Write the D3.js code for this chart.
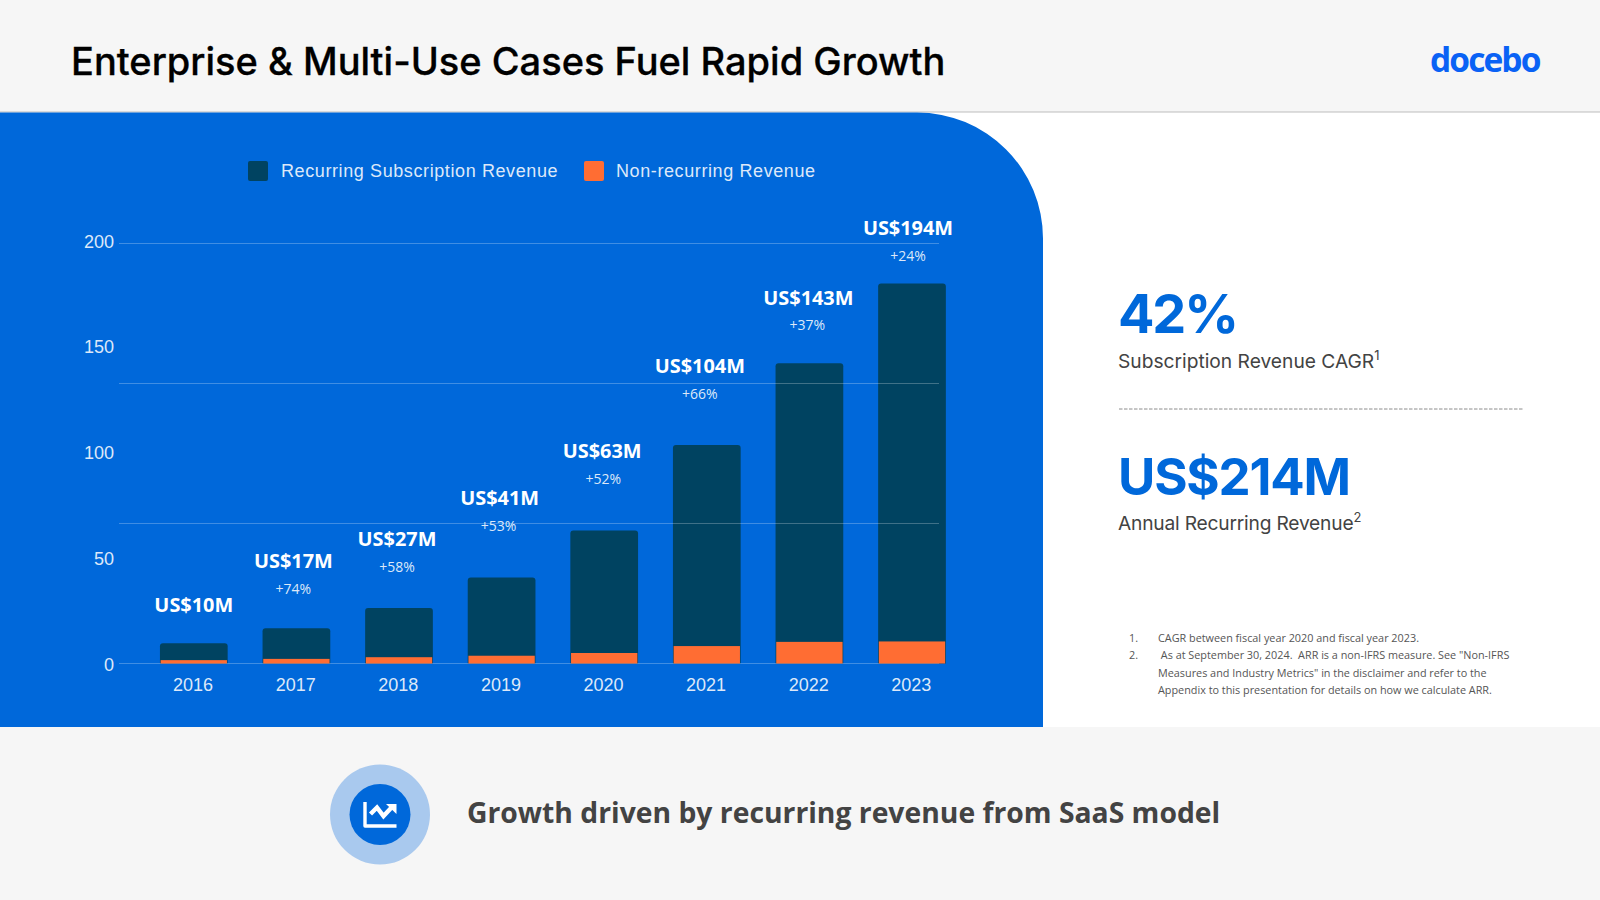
<!DOCTYPE html>
<html><head><meta charset="utf-8">
<script src="https://cdn.jsdelivr.net/npm/d3@7"></script>
<style>
html,body{margin:0;padding:0;background:#fff;overflow:hidden}
svg{display:block}
</style></head><body>
<svg id="c" width="1600" height="900"></svg>
<script>
const years=["2016","2017","2018","2019","2020","2021","2022","2023"];
const nonRecurring=[1.6,2.2,3,3.7,5,8.3,10.3,10.5];
const totals=[9.6,16.8,26.4,41,63.3,104,143,181];
const totalLabels=["US$10M","US$17M","US$27M","US$41M","US$63M","US$104M","US$143M","US$194M"];
const growthLabels=["","+74%","+58%","+53%","+52%","+66%","+37%","+24%"];
const yTicks=[0,50,100,150,200];
const gridValues=[0,66.67,133.33,200];
const legendItems=["Recurring Subscription Revenue","Non-recurring Revenue"];
// heights of the floating labels on the value axis
const totalLabelLevels=[24.3,45.3,55.8,75.6,97.7,138.4,170.6,204];
const growthLabelLevels=[0,33.0,43.6,63.1,85.4,125.9,158.8,191.9];
const C={blue:"#0068da",navy:"#004361",orange:"#ff6d33",bg:"#f6f6f6",grey:"#434343",pale:"#dde8f9"};

const svg=d3.select("#c");
const x=d3.scaleBand().domain(years).range([142.5,963.3]).paddingInner(0.34).paddingOuter(0.17);
const y=d3.scaleLinear().domain([0,200]).range([663.5,243.5]);
const yText=d3.scaleLinear().domain([0,200]).range([670.5,247.5]);

// page bands
svg.append("rect").attr("width",1600).attr("height",112).attr("fill",C.bg);
svg.append("line").attr("x1",0).attr("x2",1600).attr("y1",112).attr("y2",112).attr("stroke","#bdbdbd");
svg.append("rect").attr("y",727).attr("width",1600).attr("height",173).attr("fill",C.bg);
svg.append("path").attr("fill",C.blue)
 .attr("d","M0 112.5H917A126 126 0 0 1 1043 238.5V727H0Z");

const sans="'Liberation Sans',Arial,sans-serif", open="'Open Sans',sans-serif", head="Inter,sans-serif";

// title + logo
svg.append("text").attr("x",71).attr("y",75).attr("font-family",head).attr("font-weight",500)
 .attr("font-size",38).attr("fill","#000").attr("stroke","#000").attr("stroke-width",.3)
 .text("Enterprise & Multi-Use Cases Fuel Rapid Growth");
svg.append("text").attr("x",1430).attr("y",72).attr("font-family",open).attr("font-weight",700)
 .attr("font-size",33.5).attr("letter-spacing",-1.9).attr("fill","#0a62f5").text("docebo");

// legend
const lg=svg.append("g");
[[248,C.navy,281,legendItems[0]],[584,C.orange,616,legendItems[1]]].forEach(([sx,col,tx,t])=>{
  lg.append("rect").attr("x",sx).attr("y",161).attr("width",20).attr("height",20).attr("rx",2).attr("fill",col);
  lg.append("text").attr("x",tx).attr("y",177).attr("font-family",sans).attr("font-size",18).attr("letter-spacing",.6)
    .attr("fill",C.pale).text(t);
});

// y labels
svg.append("g").selectAll("text").data(yTicks).join("text")
 .attr("x",114).attr("y",d=>yText(d)).attr("text-anchor","end").attr("font-family",sans)
 .attr("font-size",18).attr("fill",C.pale).text(d=>d);

// x labels
svg.append("g").selectAll("text").data(years).join("text")
 .attr("x",d=>x(d)+x.bandwidth()/2-.7).attr("y",691).attr("text-anchor","middle").attr("font-family",sans)
 .attr("font-size",18).attr("fill",C.pale).text(d=>d);

// bars
const barPath=(l,w,t,b,r)=>`M${l} ${b}V${t+r}Q${l} ${t} ${l+r} ${t}H${l+w-r}Q${l+w} ${t} ${l+w} ${t+r}V${b}Z`;
svg.append("g").selectAll("path").data(years).join("path").attr("fill",C.navy)
 .attr("d",(d,i)=>barPath(x(d),x.bandwidth(),y(totals[i]),y(0),3));

// grid sits over the navy bars
svg.append("g").selectAll("line").data(gridValues).join("line")
 .attr("x1",119).attr("x2",939).attr("y1",d=>y(d)).attr("y2",d=>y(d))
 .attr("stroke","#fff").attr("stroke-opacity",.25).attr("stroke-width",1);

svg.append("g").selectAll("rect").data(years).join("rect").attr("fill",C.orange)
 .attr("x",d=>x(d)+.7).attr("width",x.bandwidth()-1.4)
 .attr("y",(d,i)=>y(nonRecurring[i])).attr("height",(d,i)=>y(0)-y(nonRecurring[i]));

// value labels
const cx=(d)=>x(d)+x.bandwidth()/2;
const offX=[0,-3,-2,-2,-2,-7,-1,-4], offG=[0,-3,-2,-3,-1,-7,-2,-4];
svg.append("g").selectAll("text").data(years).join("text")
 .attr("x",(d,i)=>cx(d)+offX[i]).attr("y",(d,i)=>y(totalLabelLevels[i]))
 .attr("text-anchor","middle").attr("font-family",open).attr("font-weight",700).attr("font-size",19.9)
 .attr("fill","#fff").text((d,i)=>totalLabels[i]);
svg.append("g").selectAll("text").data(years).join("text")
 .attr("x",(d,i)=>cx(d)+offG[i]).attr("y",(d,i)=>y(growthLabelLevels[i]))
 .attr("text-anchor","middle").attr("font-family",open).attr("font-size",14)
 .attr("fill",C.pale).text((d,i)=>growthLabels[i]);

// right panel
const rt=(t,x0,yy,fs,fw,col,fam)=>svg.append("text").attr("x",x0).attr("y",yy).attr("font-size",fs).attr("font-weight",fw).attr("fill",col).attr("font-family",fam).text(t);
rt("42%",1118,333,54,700,C.blue,head).attr("letter-spacing",-2.2);
const s1=rt("Subscription Revenue CAGR",1118,368,19.2,400,C.grey,head);
s1.append("tspan").attr("dy",-8).attr("font-size",13).text("1");
svg.append("line").attr("x1",1119).attr("x2",1524).attr("y1",409).attr("y2",409).attr("stroke","#8c8c8c").attr("stroke-dasharray","3.5 1.5");
rt("US$214M",1118,495,51,700,C.blue,head).attr("letter-spacing",-1.2);
const s2=rt("Annual Recurring Revenue",1118,530,19.2,400,C.grey,head).attr("letter-spacing",-.2);
s2.append("tspan").attr("dy",-8).attr("font-size",13).text("2");

// footnotes
const fn=[["1.",1129,642],["CAGR between fiscal year 2020 and fiscal year 2023.",1158,642],
["2.",1129,659],[" As at September 30, 2024.  ARR is a non-IFRS measure. See \"Non-IFRS",1158,659],
["Measures and Industry Metrics\" in the disclaimer and refer to the",1158,676.5],
["Appendix to this presentation for details on how we calculate ARR.",1158,693.5]];
svg.append("g").selectAll("text").data(fn).join("text").attr("x",d=>d[1]).attr("y",d=>d[2])
 .attr("font-family",open).attr("font-size",10.83).attr("fill","#555").attr("xml:space","preserve").text(d=>d[0]);

// bottom
svg.append("circle").attr("cx",380).attr("cy",814.5).attr("r",50).attr("fill","#a9c9ee");
svg.append("circle").attr("cx",380).attr("cy",814.5).attr("r",30.5).attr("fill",C.blue);
svg.append("path").attr("fill","none").attr("stroke","#fff").attr("stroke-width",3.4).attr("stroke-linejoin","round")
 .attr("d","M365 802V826H396.5");
svg.append("path").attr("fill","none").attr("stroke","#fff").attr("stroke-width",4.4)
 .attr("d","M370.5 814L377 807.5L383.5 816L392 807");
svg.append("path").attr("fill","#fff").attr("d","M386 804H396.5V814Z");
svg.append("text").attr("x",467).attr("y",823).attr("font-family",open).attr("font-weight",700).attr("font-size",28.3)
 .attr("fill",C.grey).text("Growth driven by recurring revenue from SaaS model");
</script></body></html>
